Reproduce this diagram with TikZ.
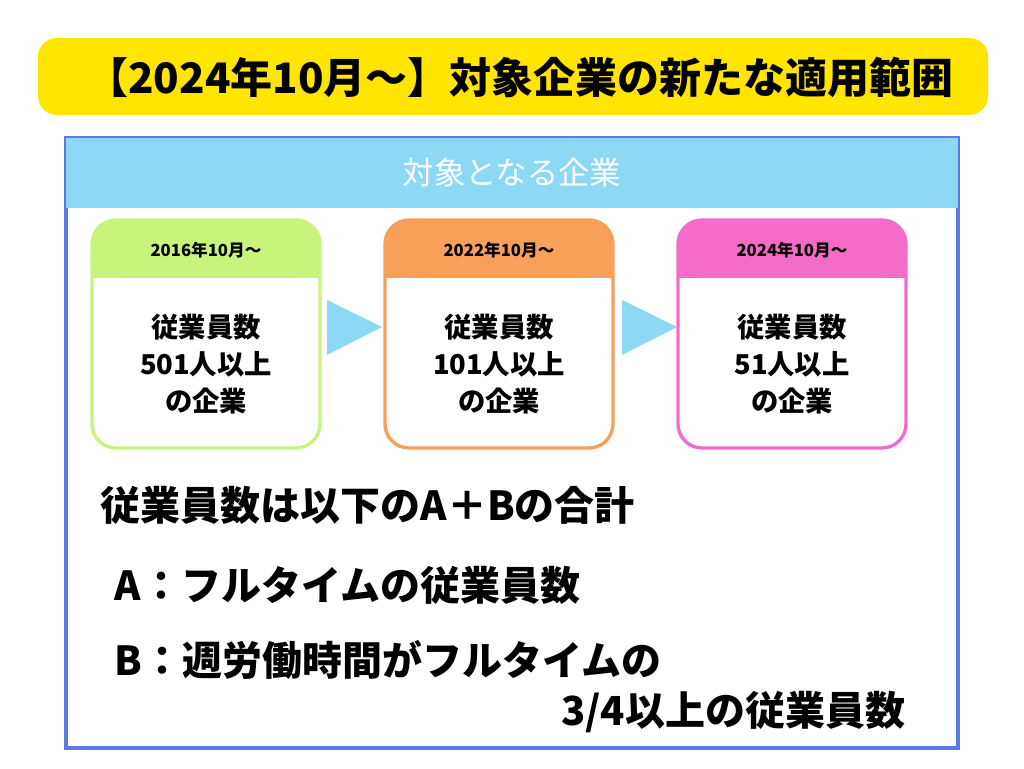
\documentclass[tikz,border=0pt]{standalone}
\usepackage{fontspec}
\setmainfont{Noto Sans CJK JP}
\begin{document}
\begin{tikzpicture}[x=0.75pt,y=-0.75pt,
  hdr/.style={font=\bfseries\fontsize{12.5}{14}\selectfont},
  body/.style={font=\bfseries\fontsize{20.5}{28}\selectfont,align=center},
  big/.style={font=\bfseries\fontsize{30}{32}\selectfont,anchor=west}]
\definecolor{ttl}{HTML}{FFE500}
\definecolor{lb}{HTML}{8DD8F5}
\definecolor{bb}{HTML}{5B7BE0}
\definecolor{gr}{HTML}{C8F47C}
\definecolor{og}{HTML}{F7A05A}
\definecolor{pk}{HTML}{F56BC8}
\useasboundingbox (0,0) rectangle (1024,768);
\fill[white] (0,0) rectangle (1024,768);
% title
\fill[ttl,rounded corners=14pt] (38,38) rectangle (988,115);
\node[font=\bfseries\fontsize{31.5}{34}\selectfont] (title) at (520,77) {【2024年10月〜】対象企業の新たな適用範囲};
% outer box
\draw[bb,line width=2.5pt] (66,138) rectangle (958,748);
\fill[lb] (66,138) rectangle (958,208);
\node[white,font=\fontsize{23.5}{26}\selectfont] (sub) at (512,173) {対象となる企業};
% cards
\foreach \x/\c/\y/\n/\k in {92/gr/2016/501/c1,385/og/2022/101/c2,678/pk/2024/51/c3}{
  \fill[\c,rounded corners=18pt] (\x,220) rectangle ++(228,58);
  \fill[\c] (\x,262) rectangle ++(228,16);
  \draw[\c,line width=2.5pt,rounded corners=18pt] (\x,220) rectangle ++(228,228);
  \node[hdr] (\k h) at (\x+114,250) {\y 年10月〜};
  \node[body] (\k b) at (\x+114,364) {従業員数\\\n 人以上\\の企業};
}
\fill[lb] (327,300) -- (382,327) -- (327,355) -- cycle;
\fill[lb] (622,300) -- (677,327) -- (622,355) -- cycle;
% texts
\node[big] (t1) at (96,505) {従業員数は以下のA＋Bの合計};
\node[big] (t2) at (110,585) {A：フルタイムの従業員数};
\node[big] (t3) at (110,660) {B：週労働時間がフルタイムの};
\node[big,anchor=east] (t4) at (910,712) {3/4以上の従業員数};
\end{tikzpicture}
\end{document}
